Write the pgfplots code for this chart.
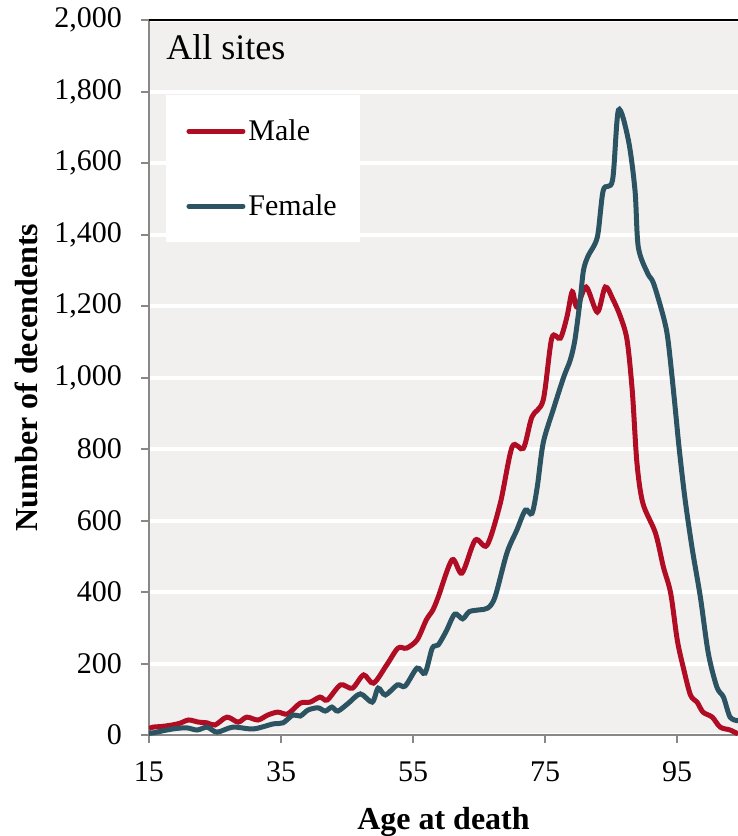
\documentclass[border=0pt]{standalone}
\usepackage{fontspec}
\setmainfont{Liberation Serif}
\usepackage{pgfplots}
\pgfplotsset{compat=1.18}
\definecolor{malecol}{HTML}{B00C24}
\definecolor{femalecol}{HTML}{2B5361}
\definecolor{bgcol}{HTML}{F2F0EF}
\definecolor{axgray}{HTML}{888888}
\begin{document}
\begin{tikzpicture}
\useasboundingbox (-74.5pt,-50.5pt) rectangle (294.5pt,367.5pt);
\begin{axis}[
    at={(0,0)}, anchor=south west,
    scale only axis, width=294.5pt, height=357.5pt,
    xmin=15, xmax=104.2, ymin=0, ymax=2000,
    xtick={15,35,55,75,95}, ytick={0,200,...,2000},
    axis x line*=bottom, axis y line*=left,
    axis line style={axgray, line width=1pt, -},
    tick style={axgray, line width=1pt},
    tick align=outside, major tick length=4pt,
    ymajorgrids, grid style={white, line width=2pt},
    axis background/.style={fill=bgcol},
    /pgf/number format/assume math mode=true,
    /pgf/number format/1000 sep={,},
    ticklabel style={font=\fontsize{15}{18}\selectfont},
    yticklabel style={xshift=-6pt},
    xticklabel style={yshift=-6pt},
    xlabel={Age at death}, ylabel={Number of decendents},
    label style={font=\fontsize{16}{19}\selectfont\bfseries},
    xlabel style={at={(axis description cs:0.5,0)}, anchor=north, yshift=-32.5pt},
    ylabel style={at={(axis description cs:0,0.5)}, anchor=south, yshift=52pt},
    legend style={at={(axis description cs:0.029,0.895)}, anchor=north west,
        draw=none, fill=white, inner xsep=10pt, inner ysep=10pt,
        row sep=21.5pt, font=\fontsize{15}{18}\selectfont,
        nodes={inner xsep=1.5pt}},
    legend cell align=left,
    legend image code/.code={\draw[#1, line cap=round] (0pt,0pt) -- (27pt,0pt);},
    every axis plot/.append style={line width=2.5pt, smooth, tension=0.5},
    after end axis/.code={
        \draw[black, line width=0.8pt] (rel axis cs:0,1) -- (rel axis cs:1,1);
        \node[anchor=north west, font=\fontsize{18}{21}\selectfont, inner sep=0pt]
            at (rel axis cs:0.029,0.98) {All sites};
    },
]
% Male
\addplot[malecol] coordinates {
(15,18) (15.6,22) (17,24) (18.5,28) (19.7,33) (21,42) (22.5,36) (23.8,34)
(25,28) (26.8,50) (28.5,36) (29.8,50) (31.5,42) (33,56) (34.5,64) (36,59)
(37.9,89) (39.4,92) (40.9,106) (42,98) (44,140) (45.8,131) (47.5,168) (49,145)
(51,196) (52.7,243) (54,243) (55.6,266) (57,322) (58,350) (58.8,386) (60.9,490)
(62.4,453) (64.4,545) (66.2,531) (68.2,648) (70,806) (71.7,802) (73,890)
(74.7,937) (76,1110) (77.3,1110) (78.3,1170) (79.1,1240) (79.8,1197)
(81.2,1253) (82.9,1183) (84.1,1253) (85.3,1217) (86.4,1170) (87.4,1105)
(88.2,960) (88.9,760) (89.8,648) (91.7,565) (92.9,470) (94,397) (95,266)
(95.9,190) (97,112) (98,92) (98.9,64) (100.3,50) (101.5,22) (103,14) (104.2,3)
};
% Female
\addplot[femalecol] coordinates {
(15,5) (15.6,6) (18.6,17) (20.7,20) (22.3,14) (23.8,22) (25.3,8) (27.7,22)
(30.8,17) (33.8,31) (35.3,34) (36.8,56) (37.9,53) (39.1,70) (40.6,76) (41.7,67)
(42.7,78) (43.6,67) (45.2,89) (47,115) (48.8,92) (49.7,131) (50.8,112)
(52.6,140) (53.8,137) (55.6,187) (56.8,173) (57.9,243) (58.8,252) (60,290)
(61.3,338) (62.5,325) (63.5,345) (65,350) (66.3,355) (67.4,386) (69.2,509)
(70.7,573) (72,629) (73,620) (73.8,694) (74.7,817) (76.2,909) (77.8,1001)
(78.8,1049) (79.5,1105) (80.3,1217) (80.8,1300) (81.5,1340) (82.9,1393)
(83.8,1524) (85.2,1552) (86.1,1748) (87.6,1664) (88.6,1524) (89.1,1365)
(90.5,1292) (91.4,1264) (92.9,1170) (93.6,1105) (94.5,950) (95.3,800)
(96.2,657) (97.3,517) (98.5,386) (99.7,229) (101,134) (102,106) (103,50) (104.2,40)
};
\legend{Male,Female}
\end{axis}
\end{tikzpicture}
\end{document}
